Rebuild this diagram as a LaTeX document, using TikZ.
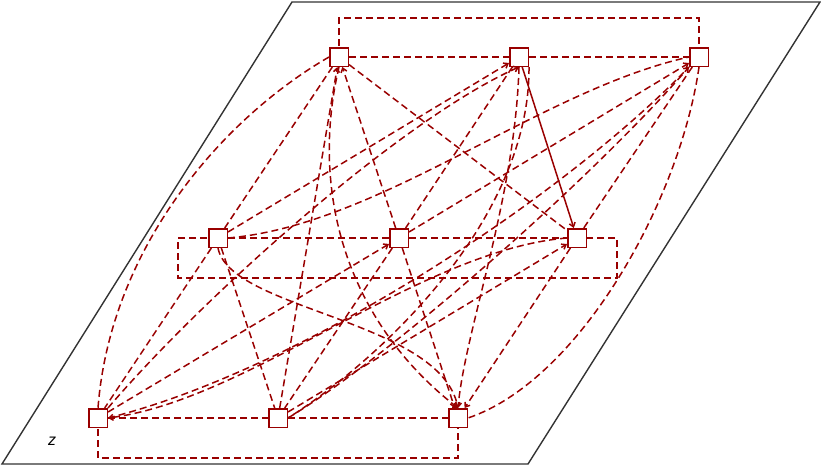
\documentclass[tikz,border=0pt]{standalone}
\usepackage{fontspec}
\setmainfont{Liberation Sans}
\usetikzlibrary{arrows.meta}
\definecolor{linkred}{HTML}{990000}
\definecolor{planegray}{HTML}{333333}
\tikzset{
  cell/.style={draw=linkred,fill=white,line width=1.5pt,minimum size=18.5pt,inner sep=0pt},
  link/.style={draw=linkred,line width=1.5pt,dash pattern=on 7pt off 4pt},
  solid link/.style={draw=linkred,line width=1.5pt},
  arrowed/.style={-{Straight Barb[length=4pt,width=6pt]}},
  plane/.style={draw=planegray,line width=1.4pt},
}

\begin{document}
\begin{tikzpicture}[x=1pt,y=-1pt]
\useasboundingbox (0,0) rectangle (821,466);
\draw[plane] (2,464) -- (292,2) -- (820,2) -- (528,464) -- cycle;
\node[font=\itshape\fontsize{16}{18}\selectfont] (zlabel) at (52,441) {z};
% rectangle edges first, nodes on top
\draw[link] (339,57) |- (699,18) -- (699,57);
\draw[link] (218,238) -- (178,238) -- (178,278) -- (617,278) -- (617,238) -- (577,238);
\draw[link] (98,418) |- (458,458) -- (458,418);
\foreach \name/\x/\y in {T1/339/57, T2/519/57, T3/699/57,
                         M1/218/238, M2/399/238, M3/577/238,
                         B1/98/418, B2/278/418, B3/458/418}
  \node[cell] (\name) at (\x,\y) {};
\foreach \from/\to in {T1/T2, T2/T3, M1/M2, M2/M3, B1/B2, B2/B3,
                       T1/M1, T1/M3, T2/M2, T3/M3, M1/B1, M1/B2, M2/B2}
  \draw[link] (\from) -- (\to);
\foreach \from/\to in {M2/T1, B2/T1, M1/T2, M2/T3, B1/M2, M2/B3, B2/M3, M3/B3}
  \draw[link,arrowed] (\from) -- (\to);
\draw[solid link,arrowed] (T2) -- (M3);
% curved ones
\draw[link] (T1.west) .. controls (220,120) and (110,250) .. (B1.north);
\draw[link] (T3.south) .. controls (680,200) and (580,380) .. (B3.east);
\draw[link] (M1.east) .. controls (380,225) and (540,90) .. (T3.west);
\draw[link,arrowed] (T1.south) .. controls (310,190) and (345,320) .. (B3.north);
\draw[link,arrowed] (M1.south) .. controls (230,310) and (440,320) .. (B3.north);
\draw[link,arrowed] (T2.south) .. controls (515,200) and (465,330) .. (B3.north);
\draw[link,arrowed] (B1.north east) .. controls (200,300) and (400,120) .. (T2.south);
\draw[link] (T2.south east) .. controls (530,220) and (380,360) .. (B2.east);
\draw[link,arrowed] (B1.east) .. controls (300,370) and (560,200) .. (T3.south west);
\draw[link] (B2.east) .. controls (400,350) and (600,170) .. (T3.south west);
\draw[link,arrowed] (M3.west) .. controls (420,250) and (250,400) .. (B1.east);
\end{tikzpicture}
\end{document}
